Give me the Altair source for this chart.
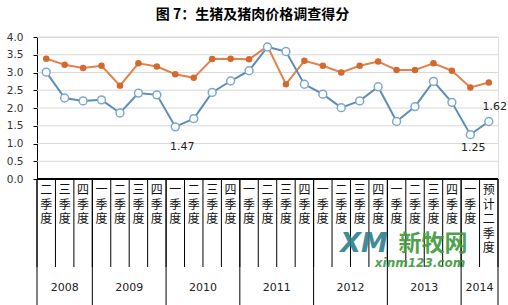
import altair as alt
import pandas as pd

# ---- data ----
quarter_labels = ["二季度", "三季度", "四季度",
                  "一季度", "二季度", "三季度", "四季度",
                  "一季度", "二季度", "三季度", "四季度",
                  "一季度", "二季度", "三季度", "四季度",
                  "一季度", "二季度", "三季度", "四季度",
                  "一季度", "二季度", "三季度", "四季度",
                  "一季度", "预计二季度"]
year_labels = ["2008", "2009", "2010", "2011", "2012", "2013", "2014"]
year_counts = [3, 4, 4, 4, 4, 4, 2]

blue_values = [3.01, 2.28, 2.20, 2.23, 1.86, 2.42, 2.37, 1.47, 1.70, 2.44, 2.76, 3.05,
               3.72, 3.59, 2.67, 2.39, 2.01, 2.20, 2.60, 1.62, 2.04, 2.75, 2.16, 1.25, 1.62]
orange_values = [3.39, 3.22, 3.13, 3.19, 2.63, 3.26, 3.17, 2.95, 2.85, 3.38, 3.39, 3.37,
                 3.74, 2.67, 3.33, 3.19, 3.00, 3.19, 3.31, 3.07, 3.07, 3.26, 3.05, 2.58, 2.72]
y_ticks = [0, 0.5, 1, 1.5, 2, 2.5, 3, 3.5, 4]

label_idx = [7, 23, 24]
label_dx = [7, 3, 6]
label_dy = [20, 13, -14]

# ---- tables ----
n = len(quarter_labels)
pts = pd.DataFrame({
    "pos": [i + 0.5 for i in range(n)],
    "blue": blue_values,
    "orange": orange_values,
    "q": ["\n".join(list(s)) for s in quarter_labels],
})
bounds = [0]
for c in year_counts:
    bounds.append(bounds[-1] + c)
years = pd.DataFrame({
    "year": year_labels,
    "mid": [(bounds[i] + bounds[i + 1]) / 2 for i in range(len(year_labels))],
})
ybounds = pd.DataFrame({"b": bounds})
qbounds = pd.DataFrame({"b": list(range(n + 1))})
ticks = pd.DataFrame({"v": y_ticks})

W, H = 461, 142
xs = alt.Scale(domain=[0, n], nice=False, zero=False)
ys = alt.Scale(domain=[0, 4], nice=False, zero=False)
yaxis = alt.Axis(values=y_ticks, format=".1f", labelOverlap=False, tickCount=9,
                 title=None, grid=False,
                 domainColor="#000000", tickColor="#000000", tickSize=4,
                 labelPadding=10, labelFont="DejaVu Sans", labelFontSize=10.5,
                 labelColor="#333333")
X = lambda f: alt.X(f, type="quantitative", scale=xs, axis=None)
Y = lambda f: alt.Y(f, type="quantitative", scale=ys, axis=yaxis, title=None)

grid = alt.Chart(ticks).mark_rule(color="#d9d9d9", strokeWidth=1).encode(
    x=alt.value(0), x2=alt.value(W), y=Y("v"))

base = alt.Chart(pts)
orange_line = base.mark_line(color="#E0834D", strokeWidth=2).encode(x=X("pos"), y=Y("orange"))
orange_pts = base.mark_circle(color="#D4692E", size=42, opacity=1).encode(x=X("pos"), y=Y("orange"))
blue_line = base.mark_line(color="#5E8DBA", strokeWidth=2).encode(x=X("pos"), y=Y("blue"))
blue_pts = base.mark_point(shape="circle", filled=True, fill="#ffffff", stroke="#7FA8D0",
                           strokeWidth=1.5, size=62, opacity=1).encode(x=X("pos"), y=Y("blue"))

lab_layers = []
for i, dx, dy in zip(label_idx, label_dx, label_dy):
    lab_layers.append(
        alt.Chart(pts.iloc[[i]]).mark_text(dx=dx, dy=dy, font="DejaVu Sans", fontSize=11,
                                           color="#222222").encode(
            x=X("pos"), y=Y("blue"), text=alt.Text("blue:Q", format=".2f"))
    )

qsep = alt.Chart(qbounds).mark_rule(color="#000000", strokeWidth=1).encode(
    x=X("b"), y=alt.value(H), y2=alt.value(H + 88))
ysep = alt.Chart(ybounds).mark_rule(color="#000000", strokeWidth=1).encode(
    x=X("b"), y=alt.value(H), y2=alt.value(H + 130))
xdomain = alt.Chart(ybounds).mark_rule(color="#000000", strokeWidth=1).encode(
    x=alt.value(0), x2=alt.value(W), y=alt.value(H))

qtext = base.mark_text(font="Noto Sans CJK SC", fontSize=12, lineBreak="\n", lineHeight=14.5,
                       baseline="top", color="#111111").encode(
    x=X("pos"), y=alt.value(H + 6), text="q:N")
ytext = alt.Chart(years).mark_text(font="DejaVu Sans", fontSize=11, baseline="middle",
                                   color="#222222").encode(
    x=X("mid"), y=alt.value(H + 109), text="year:N")

wm = pd.DataFrame({"t": ["XM", "新牧网", "xinm123.com"]})
wm1 = alt.Chart(wm.iloc[[0]]).mark_text(font="DejaVu Sans", fontSize=27, fontWeight="bold",
                                        fontStyle="italic", color="#2d7f8f", opacity=0.9,
                                        baseline="middle").encode(
    x=alt.value(327), y=alt.value(207), text="t:N")
wm2 = alt.Chart(wm.iloc[[1]]).mark_text(font="Noto Sans CJK SC", fontSize=23, fontWeight="bold",
                                        color="#3c9a3c", opacity=0.9, baseline="middle").encode(
    x=alt.value(396), y=alt.value(207), text="t:N")
wm3 = alt.Chart(wm.iloc[[2]]).mark_text(font="DejaVu Sans", fontSize=12, fontWeight="bold",
                                        fontStyle="italic", color="#3c9a3c", opacity=0.9,
                                        baseline="middle").encode(
    x=alt.value(383), y=alt.value(226), text="t:N")

chart = alt.layer(
    grid, qsep, ysep, xdomain, qtext, ytext, wm1, wm2, wm3,
    orange_line, blue_line, orange_pts, blue_pts, *lab_layers
).properties(
    width=W, height=H,
    title=alt.TitleParams("图 7：生猪及猪肉价格调查得分", font="Noto Sans CJK SC", fontSize=14,
                          fontWeight="bold", color="#000000", anchor="middle", offset=10, dx=-15),
    autosize=alt.AutoSizeParams(type="none"),
    padding={"left": 37, "top": 37, "right": 10, "bottom": 126},
).configure_view(stroke=None).configure(background="#ffffff")

chart.save("out.html", embed_options={"renderer": "svg", "actions": False})
